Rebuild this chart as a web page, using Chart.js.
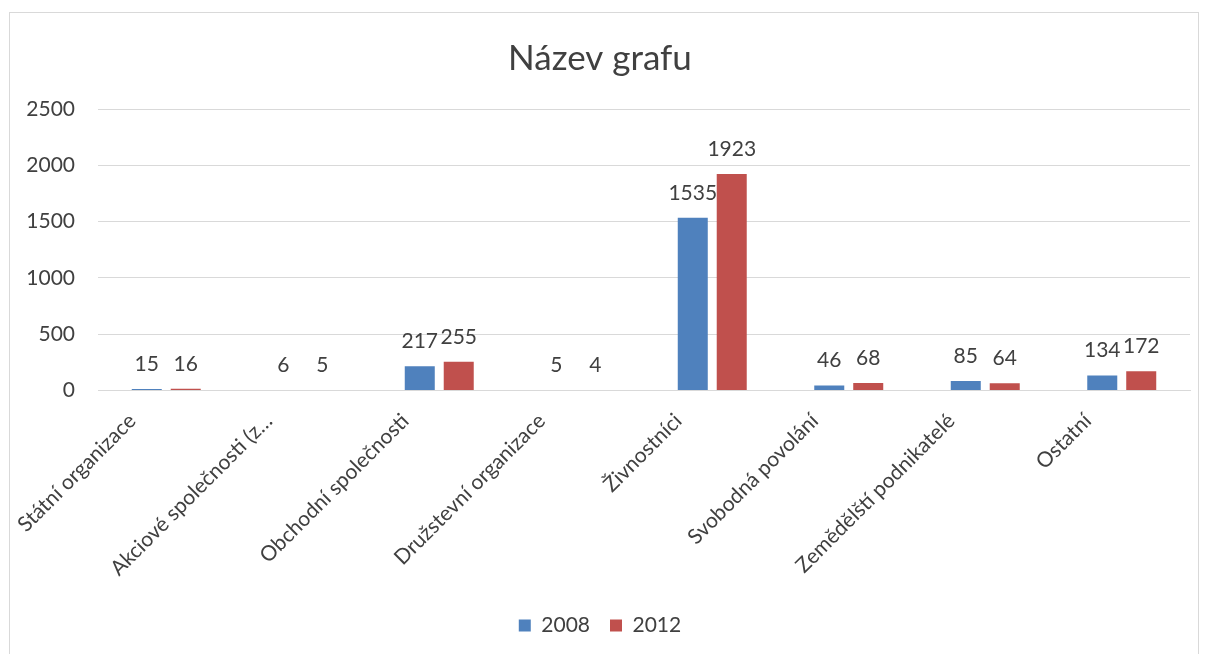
<!DOCTYPE html>
<html>
<head>
<meta charset="utf-8">
<script src="https://cdn.jsdelivr.net/npm/chart.js@4.4.1/dist/chart.umd.min.js"></script>
<style>
  body{margin:0;background:#fff;}
  #frame{position:absolute;left:9px;top:12px;width:1190px;height:700px;border:1px solid #D9D9D9;box-sizing:border-box;}
  #chart{position:absolute;left:0;top:0;}
</style>
</head>
<body>
<div id="frame"></div>
<canvas id="chart" width="1209" height="654"></canvas>
<script>
// Název grafu - počty podle typu organizace

const categories = [
  'Státní organizace',
  'Akciové společnosti (z…',
  'Obchodní společnosti',
  'Družstevní organizace',
  'Živnostníci',
  'Svobodná povolání',
  'Zemědělští podnikatelé',
  'Ostatní'
];
const values2008 = [15, 6, 217, 5, 1535, 46, 85, 134];
const values2012 = [16, 5, 255, 4, 1923, 68, 64, 172];
const yTicks = [0, 500, 1000, 1500, 2000, 2500];

const FONT = 'Lato';
const TEXT = '#404040';

// popisky hodnot nad sloupci
const valueLabels = {
  id: 'valueLabels',
  afterDatasetsDraw(chart){
    const ctx = chart.ctx;
    ctx.save();
    ctx.font = '21px ' + FONT;
    ctx.fillStyle = TEXT;
    ctx.textAlign = 'center';
    ctx.textBaseline = 'alphabetic';
    chart.data.datasets.forEach((ds, i) => {
      chart.getDatasetMeta(i).data.forEach((bar, j) => {
        ctx.fillText(String(ds.data[j]), bar.x, bar.y - 18);
      });
    });
    ctx.restore();
  }
};

new Chart(document.getElementById('chart'), {
  type: 'bar',
  data: {
    labels: categories,
    datasets: [
      { label: '2008', data: values2008, backgroundColor: '#4F81BD' },
      { label: '2012', data: values2012, backgroundColor: '#C0504D' }
    ]
  },
  options: {
    responsive: false,
    animation: false,
    categoryPercentage: 0.571,
    barPercentage: 0.77,
    layout: { padding: { left: 10, right: 19, top: 20, bottom: 8 } },
    plugins: {
      title: {
        display: true,
        text: 'Název grafu',
        color: TEXT,
        font: { family: FONT, size: 35, weight: 'normal' },
        padding: { top: 18, bottom: 29 }
      },
      legend: {
        position: 'bottom',
        labels: {
          color: TEXT,
          font: { family: FONT, size: 21 },
          boxWidth: 12,
          boxHeight: 12,
          padding: 20
        }
      },
      tooltip: { enabled: false }
    },
    scales: {
      x: {
        afterFit: s => { s.height += 4; },
        grid: { display: false },
        border: { color: '#D9D9D9' },
        ticks: {
          color: TEXT,
          font: { family: FONT, size: 21 },
          minRotation: 45,
          maxRotation: 45,
          autoSkip: false,
          labelOffset: -34,
          padding: 10
        }
      },
      y: {
        min: 0,
        max: 2500,
        afterFit: s => { s.width = 88; },
        afterBuildTicks: s => { s.ticks = yTicks.map(v => ({ value: v })); },
        grid: { color: '#D9D9D9', drawTicks: false },
        border: { display: false },
        ticks: {
          color: TEXT,
          font: { family: FONT, size: 21 },
          padding: 23,
          callback: v => String(v)
        }
      }
    }
  },
  plugins: [valueLabels]
});
</script>
</body>
</html>
